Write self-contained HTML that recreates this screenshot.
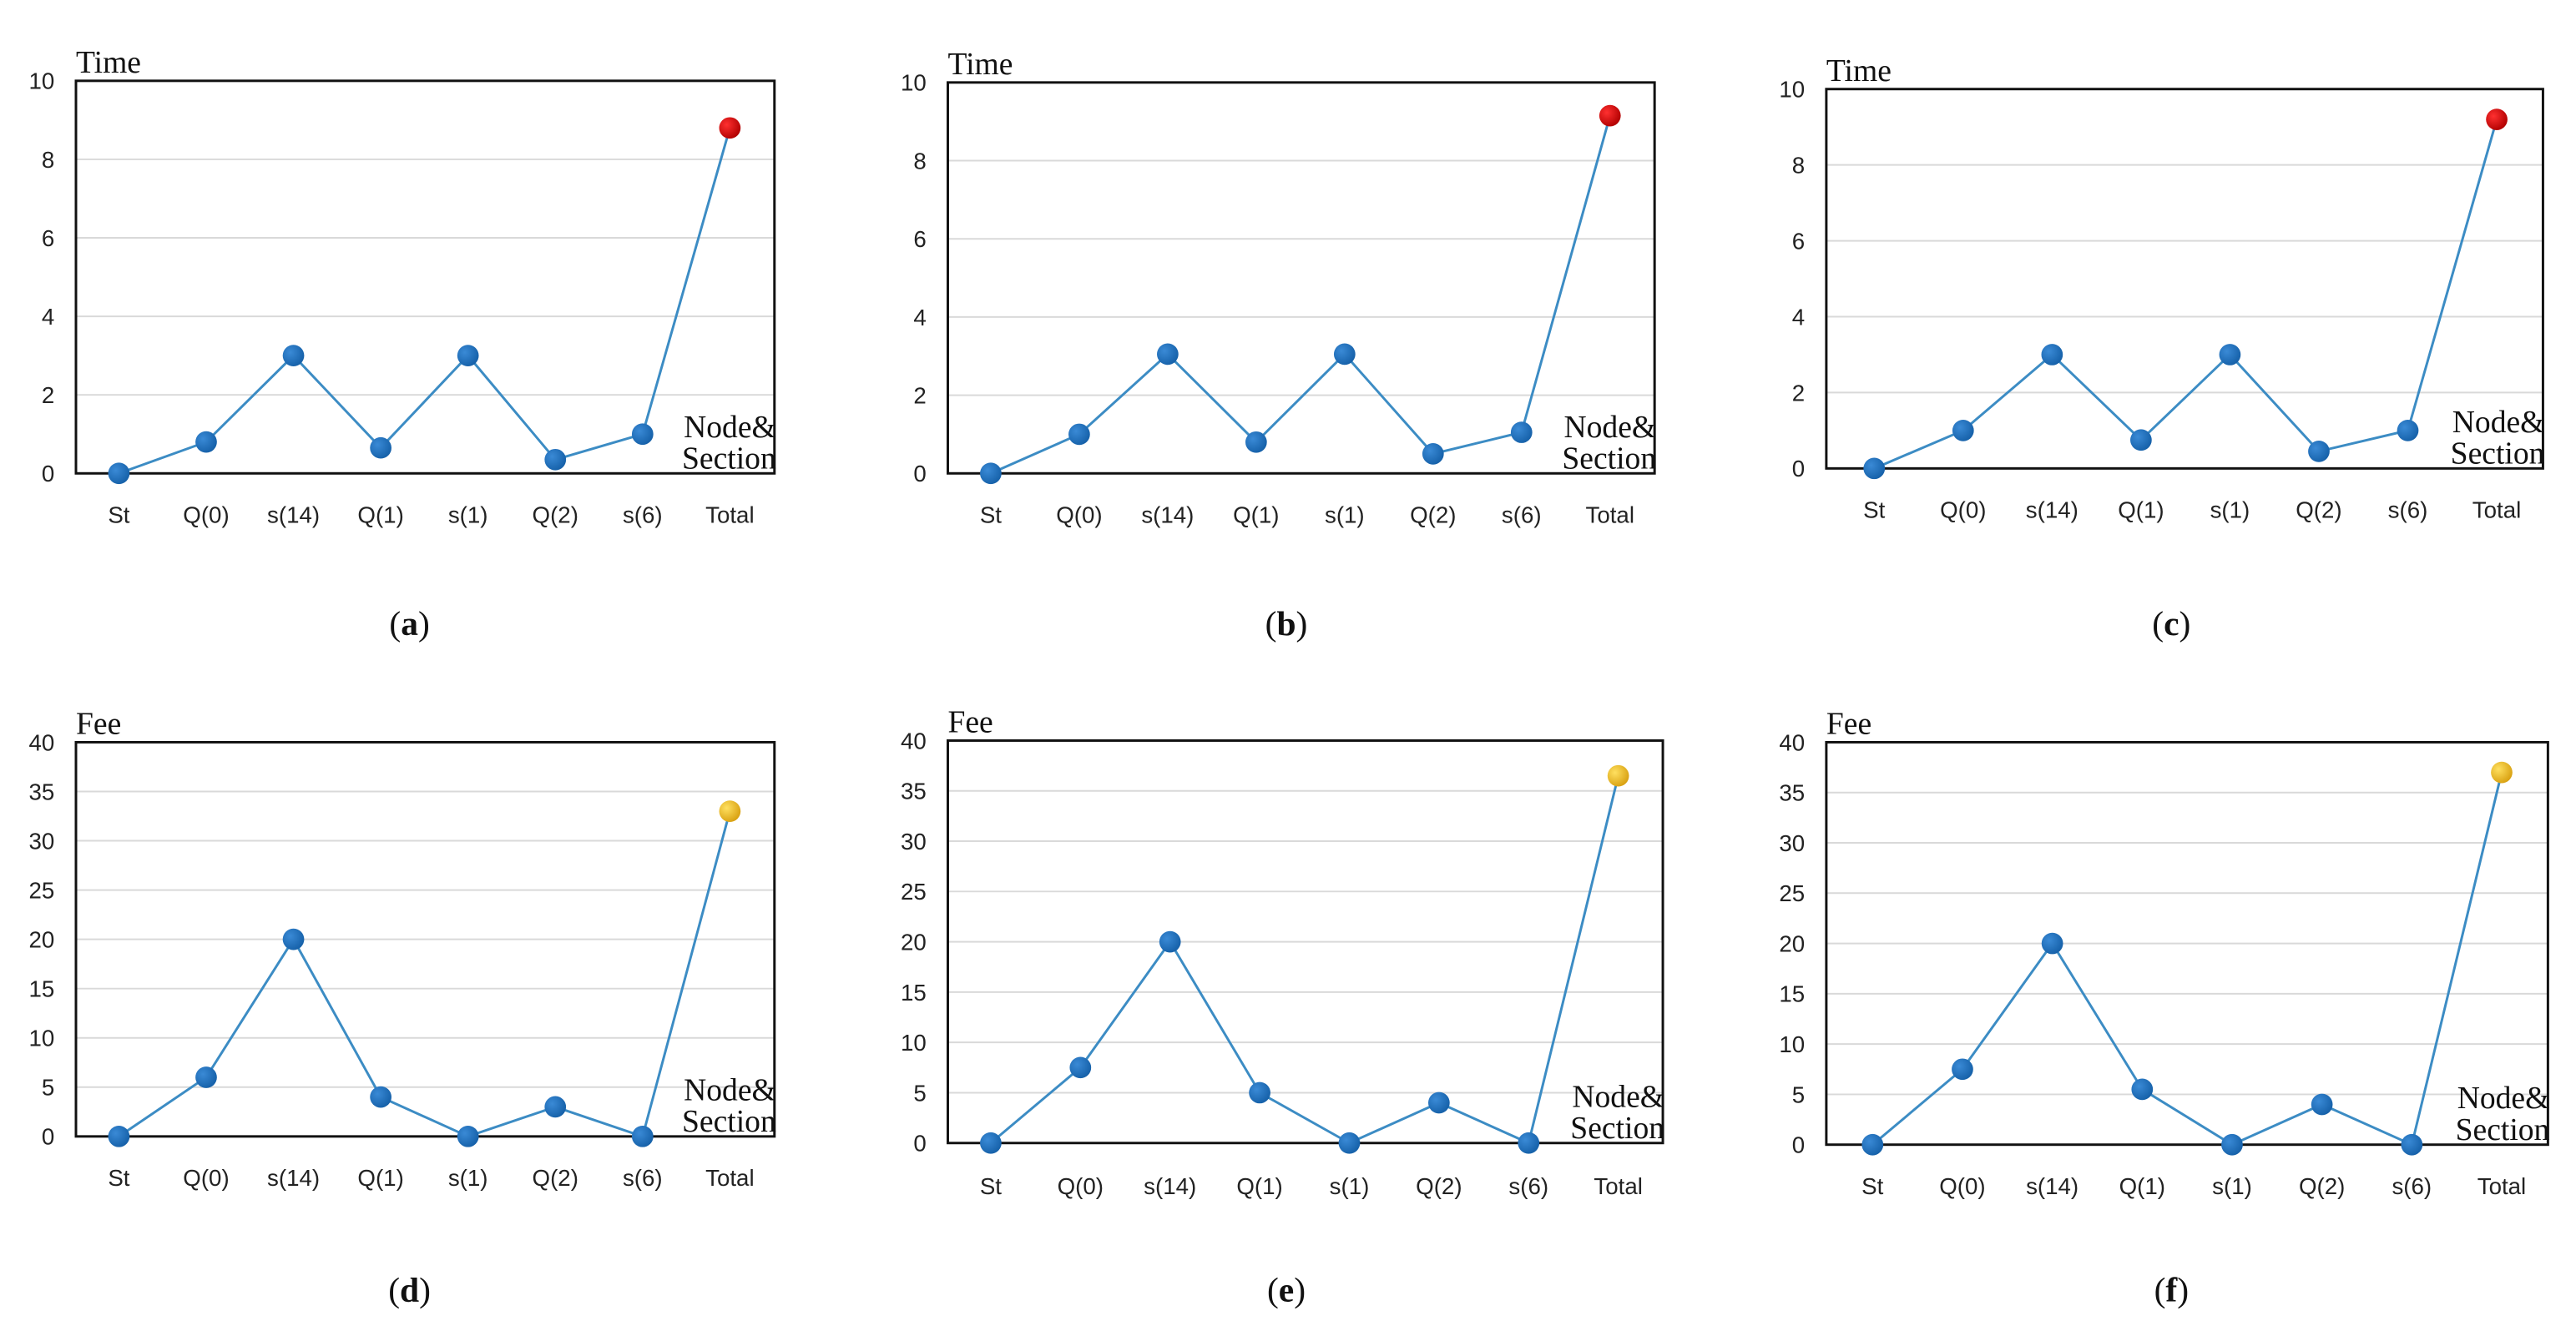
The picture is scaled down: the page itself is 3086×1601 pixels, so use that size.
<!DOCTYPE html>
<html><head><meta charset="utf-8"><style>
html,body{margin:0;padding:0;background:#fff;}
svg{display:block;}
</style></head><body>
<svg id="fig" width="3086" height="1601" viewBox="0 0 1560 810" preserveAspectRatio="none" xmlns="http://www.w3.org/2000/svg">
<defs>
<radialGradient id="gBlue" cx="0.35" cy="0.35" r="0.7"><stop offset="0" stop-color="#3a8ad6"/><stop offset="1" stop-color="#1560a8"/></radialGradient>
<radialGradient id="gRed" cx="0.35" cy="0.35" r="0.7"><stop offset="0" stop-color="#ff3030"/><stop offset="1" stop-color="#b00000"/></radialGradient>
<radialGradient id="gGold" cx="0.35" cy="0.35" r="0.7"><stop offset="0" stop-color="#ffe060"/><stop offset="1" stop-color="#d8a010"/></radialGradient>
</defs>
</svg>
<script>
const categories = ["St","Q(0)","s(14)","Q(1)","s(1)","Q(2)","s(6)","Total"];
const timeA = [0,0.8,3,0.65,3,0.35,1,8.8];
const timeB = [0,1,3.05,0.8,3.05,0.5,1.05,9.15];
const timeC = [0,1,3,0.75,3,0.45,1,9.2];
const feeD = [0,6,20,4,0,3,0,33];
const feeE = [0,7.5,20,5,0,4,0,36.5];
const feeF = [0,7.5,20,5.5,0,4,0,37];
const timeTicks = [0,2,4,6,8,10];
const feeTicks = [0,5,10,15,20,25,30,35,40];
const panelLetters = ["a","b","c","d","e","f"];

const NS = "http://www.w3.org/2000/svg";
const svg = document.getElementById("fig");
function mk(tag, attrs, parent){
  const e = document.createElementNS(NS, tag);
  for (const k in attrs) e.setAttribute(k, attrs[k]);
  (parent||svg).appendChild(e);
  return e;
}
const panels = [
  {L:46,R:469,T:49,B:287,st:72,tot:442,xl:312,cx:248,cy:378,data:timeA,ticks:timeTicks,max:10,title:"Time",end:"gRed"},
  {L:574,R:1002,T:50,B:287,st:600,tot:975,xl:312,cx:779,cy:378,data:timeB,ticks:timeTicks,max:10,title:"Time",end:"gRed"},
  {L:1106,R:1540,T:54,B:284,st:1135,tot:1512,xl:309,cx:1315,cy:378,data:timeC,ticks:timeTicks,max:10,title:"Time",end:"gRed"},
  {L:46,R:469,T:450,B:689,st:72,tot:442,xl:714,cx:248,cy:782,data:feeD,ticks:feeTicks,max:40,title:"Fee",end:"gGold"},
  {L:574,R:1007,T:449,B:693,st:600,tot:980,xl:719,cx:779,cy:782,data:feeE,ticks:feeTicks,max:40,title:"Fee",end:"gGold"},
  {L:1106,R:1543,T:450,B:694,st:1134,tot:1515,xl:719,cx:1315,cy:782,data:feeF,ticks:feeTicks,max:40,title:"Fee",end:"gGold"}
];
panels.forEach((p,pi)=>{
  const g = mk("g",{});
  
  
  const y = v => p.B - (v/p.max)*(p.B-p.T);
  const x = i => p.st + i*(p.tot-p.st)/(categories.length-1);
  p.ticks.forEach(t=>{
    if (t>0 && t<p.max){
      const gl = mk("line",{x1:p.L,x2:p.R,y1:y(t),y2:y(t),stroke:"#d9d9d9","stroke-width":1},g);
      
      
    }
    const tl = mk("text",{x:p.L-13,y:y(t)+5,"text-anchor":"end","font-family":"Liberation Sans, sans-serif","font-size":14,fill:"#222"},g);
    tl.textContent = t;
    
    
  });
  const box = mk("rect",{x:p.L,y:p.T,width:p.R-p.L,height:p.B-p.T,fill:"none",stroke:"#111","stroke-width":1.5},g);
  
  
  const ti = mk("text",{x:p.L,y:p.T-5,"font-family":"Liberation Serif, serif","font-size":19,fill:"#111"},g);
  ti.textContent = p.title;
  
  
  categories.forEach((c,i)=>{
    const xt = mk("text",{x:x(i),y:p.xl+5,"text-anchor":"middle","font-family":"Liberation Sans, sans-serif","font-size":14,fill:"#222"},g);
    xt.textContent = c;
    
    
  });
  const n1 = mk("text",{x:p.R+1,y:p.B-22,"text-anchor":"end","font-family":"Liberation Serif, serif","font-size":19,fill:"#111"},g);
  n1.textContent = "Node&";
  
  
  const n2 = mk("text",{x:p.R+1,y:p.B-3,"text-anchor":"end","font-family":"Liberation Serif, serif","font-size":19,fill:"#111"},g);
  n2.textContent = "Section";
  
  
  const pts = p.data.map((v,i)=>x(i)+","+y(v)).join(" ");
  const ln = mk("polyline",{points:pts,fill:"none",stroke:"#3c8cc4","stroke-width":1.5},g);
  
  
  p.data.forEach((v,i)=>{
    const last = i===p.data.length-1;
    const c = mk("circle",{cx:x(i),cy:y(v),r:6.5,fill:"url(#"+(last?p.end:"gBlue")+")"},g);
    
    
  });
  const cap = mk("text",{x:p.cx,y:p.cy+7,"text-anchor":"middle","font-family":"Liberation Serif, serif","font-size":21,fill:"#111"},g);
  
  
  const t1 = mk("tspan",{},cap); t1.textContent = "(";
  const t2 = mk("tspan",{"font-weight":"bold"},cap); t2.textContent = panelLetters[pi];
  const t3 = mk("tspan",{},cap); t3.textContent = ")";
});
</script>
</body></html>
